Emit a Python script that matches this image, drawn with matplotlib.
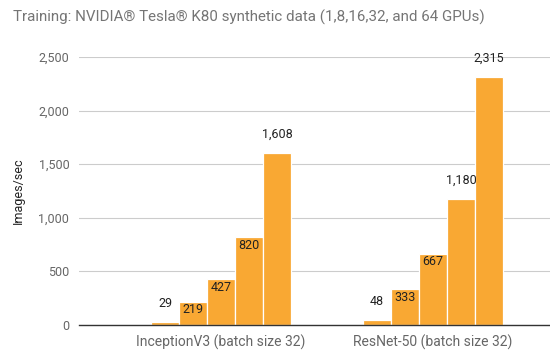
import matplotlib.pyplot as plt
import numpy as np

plt.rcParams['font.family'] = ['Roboto', 'DejaVu Sans']

categories = ['InceptionV3 (batch size 32)', 'ResNet-50 (batch size 32)']
gpus = [1, 8, 16, 32, 64]
inception = [29, 219, 427, 820, 1608]
resnet = [48, 333, 667, 1180, 2315]
values = [inception, resnet]

bar_color = '#F9A833'
step = 0.132

fig = plt.figure(figsize=(5.5, 3.54), dpi=100)
ax = fig.add_axes([0.1436, 0.0819, 0.8564, 0.7571])

for gi, series in enumerate(values):
    for bi, v in enumerate(series):
        x = gi + (bi - 2) * step
        ax.bar(x, v, width=step, color=bar_color, edgecolor='white', linewidth=0.9, zorder=3)
        label = f'{v:,}'
        # short labels sit inside tall enough bars, others go above
        if len(label) <= 3 and v > 150:
            ax.text(x, v - 75, label, ha='center', va='center', fontsize=9, color='#222222', zorder=4)
        else:
            ax.text(x, v + 170, label, ha='center', va='center', fontsize=9, color='#222222', zorder=4)

ax.set_xlim(-0.670, 1.552)
ax.set_ylim(0, 2500)
ax.set_yticks(np.arange(0, 2501, 500))
ax.set_yticklabels([f'{t:,}' for t in range(0, 2501, 500)], color='#666666', fontsize=9)
ax.set_xticks([0, 1])
ax.set_xticklabels(categories, color='#666666', fontsize=10)
ax.tick_params(axis='both', length=0)
ax.tick_params(axis='y', pad=7)
ax.tick_params(axis='x', pad=7)
ax.grid(axis='y', color='#cccccc', linewidth=0.8, zorder=0)
for s in ['top', 'right', 'left']:
    ax.spines[s].set_visible(False)
ax.spines['bottom'].set_color('#333333')
ax.spines['bottom'].set_linewidth(1.0)
ax.spines['bottom'].set_zorder(5)

ax.set_ylabel('Images/sec', fontsize=9, color='#222222', labelpad=10)
fig.text(0.024, 0.95, 'Training: NVIDIA® Tesla® K80 synthetic data (1,8,16,32, and 64 GPUs)',
         fontsize=10.9, color='#757575', ha='left', va='center')

fig.savefig('out.png', dpi=100)
